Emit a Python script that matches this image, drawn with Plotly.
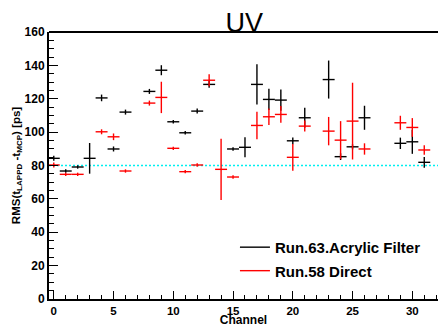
import plotly.graph_objects as go

channels = list(range(32))

# Run.63 Acrylic Filter (black)
black_rms = [84.3, 76.7, 79.1, 84.3, 120.5, 89.9, 112.0, None, 124.4, 137.1,
             106.2, 99.6, 112.6, 128.6, None, 89.9, 90.9, 128.6, 119.6, 119.2,
             94.8, 108.6, None, 131.5, 85.3, 91.2, 108.6, None, None, 93.3,
             94.2, 81.9]
black_err = [1.5, 1.0, 1.0, 9.2, 2.0, 1.5, 1.5, None, 1.5, 3.0,
             1.0, 1.0, 1.5, 2.0, None, 1.0, 6.0, 12.0, 6.4, 6.4,
             2.0, 6.0, None, 11.4, 2.0, 1.5, 7.2, None, None, 3.4,
             7.2, 3.2]

# Run.58 Direct (red)
red_rms = [80.3, 74.7, 74.7, None, 100.2, 97.2, 76.7, None, 117.4, 120.8,
           90.3, 76.3, 80.3, 131.1, 77.7, 73.1, None, 104.0, 109.2, 110.6,
           84.9, 103.6, None, 100.6, 95.2, 106.6, 89.9, None, None, 105.6,
           102.8, 89.3]
red_err = [1.5, 1.0, 1.0, None, 1.5, 2.0, 1.0, None, 1.5, 9.4,
           1.0, 1.0, 1.0, 3.6, 18.4, 1.0, None, 8.2, 5.0, 5.0,
           8.0, 3.3, None, 8.5, 11.4, 23.0, 3.4, None, None, 4.2,
           5.6, 2.8]

half_bin = 0.5
ref_level = 80
names = ["Run.63.Acrylic Filter", "Run.58 Direct"]
colors = ["black", "#ff0000"]

FONT = "Liberation Sans, Arial, sans-serif"


def clean(vals, errs):
    xs, ys, es = [], [], []
    for c, v, e in zip(channels, vals, errs):
        if v is not None:
            xs.append(c)
            ys.append(v)
            es.append(e)
    return xs, ys, es


fig = go.Figure()

fig.add_trace(go.Scatter(
    x=[-0.4, 32.15], y=[ref_level, ref_level], mode="lines",
    line=dict(color="#00f0f0", width=1.3, dash="2px,2px"),
    showlegend=False, hoverinfo="skip"))

for vals, errs, col, nm in [(black_rms, black_err, colors[0], names[0]),
                             (red_rms, red_err, colors[1], names[1])]:
    xs, ys, es = clean(vals, errs)
    fig.add_trace(go.Scatter(
        x=xs, y=ys, mode="markers",
        marker=dict(size=2, color=col, opacity=0),
        error_y=dict(type="data", array=es, visible=True, color=col,
                     thickness=1.4, width=0),
        error_x=dict(type="constant", value=half_bin, visible=True, color=col,
                     thickness=1.4, width=0),
        showlegend=False, hoverinfo="skip"))

# legend entries
for i, (col, nm) in enumerate(zip(colors, names)):
    fig.add_trace(go.Scatter(x=[None], y=[None], mode="lines",
                             line=dict(color=col, width=1.4), name=nm,
                             legendgroup=str(i)))

fig.update_layout(
    width=438, height=327,
    margin=dict(l=49, r=0, t=32, b=28),
    paper_bgcolor="white", plot_bgcolor="white",
    title=dict(text="UV", x=0.5575, xanchor="center", y=0.96, yanchor="top",
               font=dict(family=FONT, size=27, color="black")),
    showlegend=True,
    legend=dict(x=0.478, y=0.255, xanchor="left", yanchor="top",
                bgcolor="rgba(0,0,0,0)", borderwidth=0,
                font=dict(family=FONT, size=15, color="black", weight="bold"),
                tracegroupgap=1, traceorder="grouped"),
    xaxis=dict(range=[-0.4, 32.15], showgrid=False, zeroline=False,
               showline=True, linecolor="black", linewidth=2, mirror=False,
               ticks="inside", ticklen=8, tickwidth=1.2, tickcolor="black",
               dtick=5, tick0=0,
               minor=dict(ticks="inside", ticklen=4, dtick=1, tickcolor="black",
                          tickwidth=1),
               tickfont=dict(family=FONT, size=11.5, color="black", weight="bold"),
               title=dict(text="Channel", standoff=3,
                          font=dict(family=FONT, size=12, color="black",
                                    weight="bold"))),
    yaxis=dict(range=[0, 160], showgrid=False, zeroline=False,
               showline=True, linecolor="black", linewidth=2, mirror=False,
               ticks="inside", ticklen=9, tickwidth=1.2, tickcolor="black",
               dtick=20, tick0=0,
               minor=dict(ticks="inside", ticklen=5, dtick=5, tickcolor="black",
                          tickwidth=1),
               tickfont=dict(family=FONT, size=12, color="black", weight="bold"),
               title=dict(text="RMS(t<sub>LAPPD</sub> -t<sub>MCP</sub>) [ps]",
                          standoff=2,
                          font=dict(family=FONT, size=11.5, color="black",
                                    weight="bold"))),
)

# top frame line
fig.add_shape(type="line", xref="paper", yref="paper", x0=0, x1=1, y0=1, y1=1,
              line=dict(color="black", width=2))

fig.write_html("out.html")
